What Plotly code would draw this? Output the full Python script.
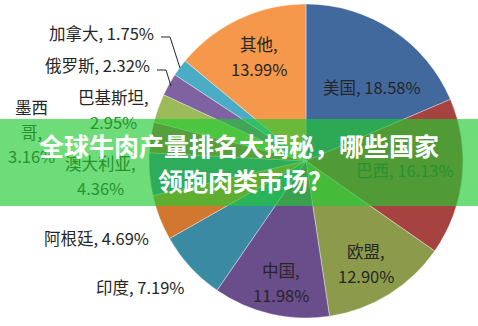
import plotly.graph_objects as go

# ---- data ----
categories = ["美国", "巴西", "欧盟", "中国", "印度", "阿根廷", "澳大利亚",
              "墨西哥", "巴基斯坦", "俄罗斯", "加拿大", "其他"]
values = [18.58, 16.13, 12.90, 11.98, 7.19, 4.69, 4.36, 3.16, 2.95, 2.32, 1.75, 13.99]
colors = ["#41699D", "#A6423F", "#8B9B4B", "#6A4D8B", "#3A8AA4", "#D2772F",
          "#4472A8", "#B8504D", "#9BBB59", "#7E62A1", "#4BACC6", "#F6984B"]

title_line1 = "全球牛肉产量排名大揭秘，哪些国家"
title_line2 = "领跑肉类市场?"

W, H = 478, 326
CX, CY, R = 306, 161, 157

# label layout: pixel x, list of line pixel y's, break style
label_layout = {
    "美国": (372, [87], "one"),
    "巴西": (405, [170], "one"),
    "欧盟": (366, [251, 276], "two"),
    "中国": (281, [270, 295], "two"),
    "印度": (140, [287], "one"),
    "阿根廷": (96, [238], "one"),
    "澳大利亚": (100, [163, 188], "two"),
    "墨西哥": (32, [107, 132, 156], "mexico"),
    "巴基斯坦": (113, [97, 122], "two"),
    "俄罗斯": (97, [65], "one"),
    "加拿大": (101, [33], "one"),
    "其他": (259, [44, 69], "two"),
}
BANNER_TOP, BANNER_BOT = 119, 206

def px(x):
    return x / W

def py(y):
    return 1 - y / H

fig = go.Figure()
fig.add_trace(go.Pie(
    labels=categories, values=values, sort=False, direction="clockwise",
    rotation=0, textinfo="none", hoverinfo="label+percent",
    marker=dict(colors=colors, line=dict(color="rgba(255,255,255,0.6)", width=0.6)),
    domain=dict(x=[px(CX - R), px(CX + R)], y=[py(CY + R), py(CY - R)]),
    showlegend=False,
))

DARK = "#262626"
TINT = "rgb(38,146,48)"
FONT = "Noto Sans CJK SC"
annotations = []
for cat, val in zip(categories, values):
    x, ys, style = label_layout[cat]
    pct = f"{val:.2f}%"
    if style == "one":
        lines = [f"{cat}, {pct}"]
    elif style == "two":
        lines = [f"{cat},", pct]
    else:
        lines = [cat[:2], cat[2:] + ",", pct]
    for t, yy in zip(lines, ys):
        under = BANNER_TOP - 4 <= yy <= BANNER_BOT
        annotations.append(dict(x=px(x), y=py(yy), text=t, xref="paper", yref="paper",
                                showarrow=False, xanchor="center", yanchor="middle",
                                font=dict(family=FONT, size=16.5, color=TINT if under else DARK)))

# title on banner
for t, yy in [(title_line1, 145), (title_line2, 180)]:
    annotations.append(dict(x=0.5, y=py(yy), xref="paper", yref="paper", text=f"<b>{t}</b>",
                            showarrow=False, xanchor="center", yanchor="middle",
                            font=dict(family=FONT, size=25, color="white")))

shapes = [
    # leader lines
    dict(type="path", xref="paper", yref="paper",
         path=f"M {px(161)} {py(37)} L {px(170)} {py(37)} L {px(180)} {py(68)}",
         line=dict(color="#222222", width=1)),
    dict(type="path", xref="paper", yref="paper",
         path=f"M {px(157)} {py(70)} L {px(166)} {py(70)} L {px(171)} {py(86)}",
         line=dict(color="#222222", width=1)),
    # banner overlay
    dict(type="rect", xref="paper", yref="paper", x0=0, x1=1,
         y0=py(BANNER_BOT), y1=py(BANNER_TOP),
         fillcolor="rgba(35,202,50,0.66)", line=dict(width=0), layer="above"),
]

fig.update_layout(
    width=W, height=H, margin=dict(l=0, r=0, t=0, b=0),
    paper_bgcolor="white", plot_bgcolor="white",
    annotations=annotations, shapes=shapes,
)

fig.write_html("out.html")
